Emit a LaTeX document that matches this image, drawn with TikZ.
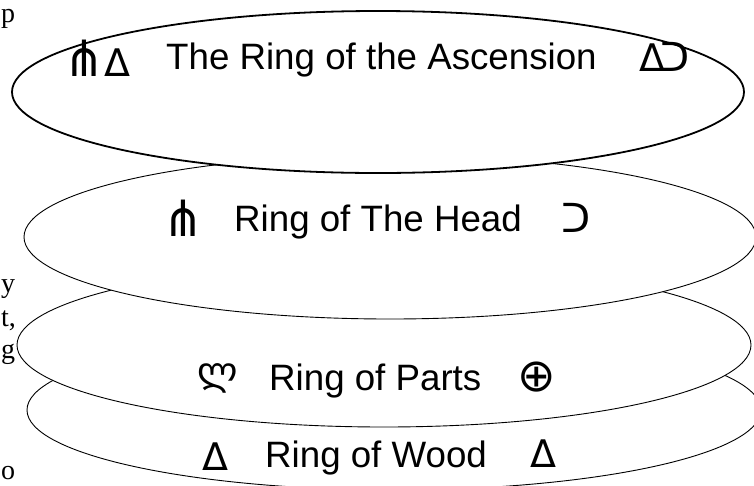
\documentclass[tikz,border=0pt]{standalone}
\usepackage{fontspec}
\setmainfont{Liberation Sans}
\newfontfamily\symfont{DejaVu Sans}
\newfontfamily\fragfont{Liberation Serif}
\usetikzlibrary{shapes.geometric}
\newcommand{\forksize}{\fontsize{50}{52}\selectfont}
\newcommand{\trisize}{\fontsize{38}{40}\selectfont}
\begin{document}
\begin{tikzpicture}[x=1pt,y=-1pt,
  ring/.style={ellipse, draw, fill=white, inner sep=0pt, line width=0.9pt},
  ringtext/.style={anchor=base west, inner sep=0pt, font=\fontsize{36.7}{40}\selectfont},
  glyph/.style={inner sep=0pt, font=\symfont\trisize},
  hookglyph/.style={inner sep=0pt, font=\symfont\fontsize{40}{42}\selectfont},
  forkglyph/.style={inner sep=0pt, font=\symfont\forksize},
  bigglyph/.style={inner sep=0pt, font=\symfont\fontsize{46}{48}\selectfont},
  frag/.style={anchor=base west, inner sep=0pt, font=\fragfont\fontsize{28}{30}\selectfont}]
\useasboundingbox (0,0) rectangle (754,485);
% rings, bottom first
\node[ring, minimum width=734pt, minimum height=160pt] (r4) at (394,410) {};
\node[ring, minimum width=734pt, minimum height=164pt] (r3) at (384,345) {};
\node[ring, minimum width=732pt, minimum height=164pt] (r2) at (390,237) {};
\node[ring, line width=1.8pt, minimum width=732pt, minimum height=162pt] (r1) at (378,92) {};
% ring titles
\node[ringtext] (t1) at (166,69) {The Ring of the Ascension};
\node[ringtext] (t2) at (234,231) {Ring of The Head};
\node[ringtext] (t3) at (269,390) {Ring of Parts};
\node[ringtext] (t4) at (265,467) {Ring of Wood};
% glyphs
\node[glyph] (g1) at (97,58) {{\forksize ⋔}{\trisize ᐃ}};
\node[glyph] (g3) at (652,58) {ᐃ};
\node[hookglyph] (g4) at (675,57) {ᑐ};
\node[forkglyph] (g5) at (183,218) {⋔};
\node[hookglyph] (g6) at (576,218) {ᑐ};
\node[glyph] (g7) at (218,378) {ლ};
\node[bigglyph] (g8) at (537,377) {⊕};
\node[glyph] (g9) at (215,457) {ᐃ};
\node[glyph] (g10) at (543,454) {ᐃ};
% fragments of the neighbouring text column
\node[frag] (f1) at (1,22) {p};
\node[frag] (f2) at (1,292) {y};
\node[frag] (f3) at (1,326) {t,};
\node[frag] (f4) at (1,358) {g};
\node[frag] (f5) at (1,479) {o};
\end{tikzpicture}
\end{document}
